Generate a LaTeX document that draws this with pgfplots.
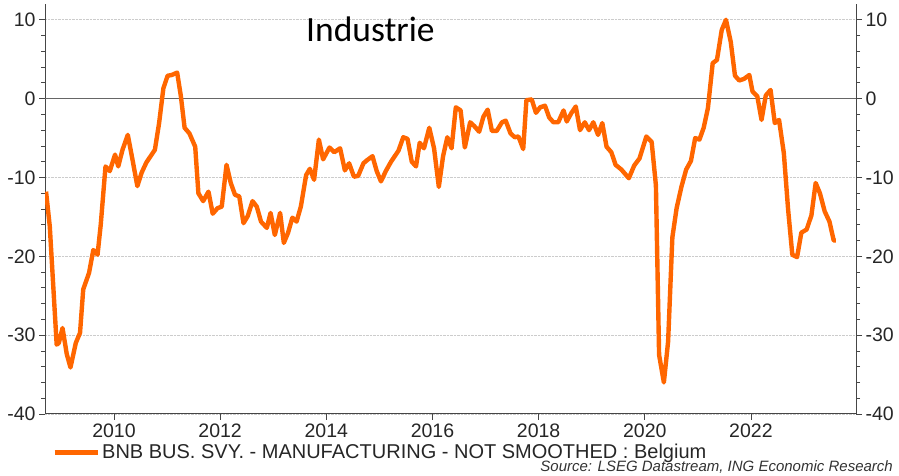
\documentclass[border=0pt]{standalone}
\usepackage{fontspec}
\setmainfont{Liberation Sans}
\newfontfamily\carlito{Carlito}
\usepackage{pgfplots}
\pgfplotsset{compat=1.18}
\definecolor{ingorange}{RGB}{255,102,0}
\definecolor{axisgray}{RGB}{70,70,70}

% BNB business survey, manufacturing, not smoothed (Belgium)
\pgfplotstableread{
t       v
2008.72 -11.8
2008.79 -16.2
2008.92 -31.2
2008.96 -31.0
2009.03 -29.1
2009.11 -32.4
2009.18 -34.1
2009.28 -31.0
2009.36 -29.7
2009.42 -24.2
2009.53 -22.1
2009.61 -19.2
2009.69 -19.8
2009.75 -16.0
2009.84 -8.6
2009.92 -9.2
2010.02 -7.1
2010.08 -8.6
2010.16 -6.5
2010.26 -4.6
2010.35 -7.8
2010.44 -11.1
2010.52 -9.4
2010.61 -8.1
2010.69 -7.3
2010.77 -6.5
2010.85 -3.1
2010.93 1.3
2011.01 2.9
2011.09 3.0
2011.19 3.3
2011.26 0.3
2011.33 -3.7
2011.42 -4.4
2011.53 -6.1
2011.59 -12.0
2011.68 -13.0
2011.78 -11.8
2011.86 -14.6
2011.95 -13.9
2012.03 -13.7
2012.12 -8.4
2012.20 -10.7
2012.28 -12.2
2012.36 -12.4
2012.44 -15.8
2012.52 -14.9
2012.61 -13.0
2012.69 -13.7
2012.77 -15.6
2012.88 -16.4
2012.95 -14.5
2013.03 -17.3
2013.13 -14.5
2013.20 -18.3
2013.28 -17.0
2013.36 -15.1
2013.44 -15.6
2013.52 -13.7
2013.62 -9.7
2013.69 -8.9
2013.77 -10.3
2013.86 -5.2
2013.94 -7.7
2014.06 -6.2
2014.15 -6.8
2014.26 -6.3
2014.35 -9.1
2014.43 -8.2
2014.52 -9.9
2014.60 -9.8
2014.70 -8.2
2014.77 -7.8
2014.87 -7.3
2014.95 -9.2
2015.03 -10.5
2015.12 -9.2
2015.22 -8.0
2015.36 -6.6
2015.45 -4.9
2015.53 -5.1
2015.61 -8.0
2015.69 -8.6
2015.76 -5.6
2015.84 -6.3
2015.94 -3.7
2016.03 -6.3
2016.12 -11.2
2016.20 -7.3
2016.28 -4.9
2016.36 -6.3
2016.44 -1.1
2016.53 -1.5
2016.61 -6.2
2016.71 -3.0
2016.79 -3.5
2016.88 -4.2
2016.96 -2.3
2017.04 -1.4
2017.12 -4.1
2017.21 -4.1
2017.31 -3.0
2017.38 -2.8
2017.47 -4.4
2017.55 -4.9
2017.62 -4.8
2017.71 -6.4
2017.77 -0.2
2017.87 -0.1
2017.95 -1.8
2018.03 -1.1
2018.12 -0.9
2018.20 -2.4
2018.28 -3.0
2018.37 -3.0
2018.47 -1.5
2018.53 -2.9
2018.62 -1.8
2018.70 -1.0
2018.78 -4.0
2018.87 -3.0
2018.95 -4.0
2019.03 -3.0
2019.12 -4.6
2019.20 -3.1
2019.28 -6.1
2019.37 -6.8
2019.45 -8.4
2019.56 -9.0
2019.70 -10.1
2019.80 -8.5
2019.90 -7.6
2020.03 -4.8
2020.13 -5.5
2020.21 -11.0
2020.27 -32.5
2020.36 -36.0
2020.44 -30.8
2020.52 -17.6
2020.60 -13.9
2020.69 -11.2
2020.78 -9.0
2020.87 -7.9
2020.95 -5.0
2021.03 -5.2
2021.11 -3.7
2021.19 -1.2
2021.28 4.5
2021.36 4.9
2021.45 8.7
2021.53 10.0
2021.62 7.2
2021.70 2.9
2021.78 2.3
2021.87 2.5
2021.97 3.0
2022.03 0.9
2022.12 0.3
2022.20 -2.7
2022.28 0.4
2022.37 1.1
2022.45 -3.1
2022.53 -2.7
2022.62 -6.9
2022.70 -14.0
2022.78 -19.8
2022.87 -20.1
2022.95 -17.0
2023.05 -16.6
2023.14 -14.8
2023.22 -10.7
2023.30 -12.0
2023.39 -14.3
2023.48 -15.6
2023.56 -18.0
2023.60 -18.0
}\manuf

\begin{document}
\begin{tikzpicture}[x=1pt,y=1pt]
\useasboundingbox (0,0) rectangle (899,476);

% main axis: left scale, x axis, grid, data
\begin{axis}[
    at={(45pt,62pt)}, anchor=south west,
    scale only axis, width=811pt, height=410pt,
    xmin=2008.7, xmax=2023.98, ymin=-40, ymax=12,
    axis x line*=bottom, axis y line*=left,
    axis line style={axisgray, line width=1pt},
    xtick={2010,2012,...,2022}, minor x tick num=7,
    ytick={-40,-30,...,10}, minor y tick num=4,
    tick align=outside, major tick length=6pt, minor tick length=4pt,
    tick style={axisgray, line width=0.8pt},
    ymajorgrids, major grid style={densely dotted, gray!40, line width=0.8pt},
    /pgf/number format/assume math mode=true,
    xticklabel style={/pgf/number format/1000 sep=},
    ticklabel style={font=\fontsize{19.5}{20}\selectfont, text=black!85},
    legend style={at={(0.0086,-0.0927)}, anchor=west, draw=none, fill=none,
        inner sep=0pt, font=\fontsize{20}{21}\selectfont, text=black!85},
    legend cell align=left,
    legend image code/.code={\draw[#1, line width=5pt] (0pt,0pt) -- (43pt,0pt);},
]
\addplot[gray!80!black, line width=1.5pt, forget plot] coordinates {(2008.7,0) (2023.98,0)};
\addplot[ingorange, line width=4.4pt, line join=round] table[x=t, y=v] {\manuf};
\addlegendentry{BNB BUS. SVY. - MANUFACTURING - NOT SMOOTHED : Belgium}
\end{axis}

% right-hand scale
\begin{axis}[
    at={(45pt,62pt)}, anchor=south west,
    scale only axis, width=811pt, height=410pt,
    xmin=2008.7, xmax=2023.98, ymin=-40, ymax=12,
    axis x line=none, axis y line*=right,
    axis line style={axisgray, line width=1pt},
    ytick={-40,-30,...,10}, minor y tick num=4,
    tick align=outside, major tick length=6pt, minor tick length=4pt,
    tick style={axisgray, line width=0.8pt},
    /pgf/number format/assume math mode=true,
    ticklabel style={font=\fontsize{19.5}{20}\selectfont, text=black!85},
]
\end{axis}

\node[anchor=base west, inner sep=0pt, font=\carlito\fontsize{35.5}{36}\selectfont] at (306,434.5) {Industrie};
\node[anchor=base east, inner sep=0pt, font=\itshape\fontsize{15}{16}\selectfont, text=black!80] at (893,4) {Source: LSEG Datastream, ING Economic Research};
\end{tikzpicture}
\end{document}
